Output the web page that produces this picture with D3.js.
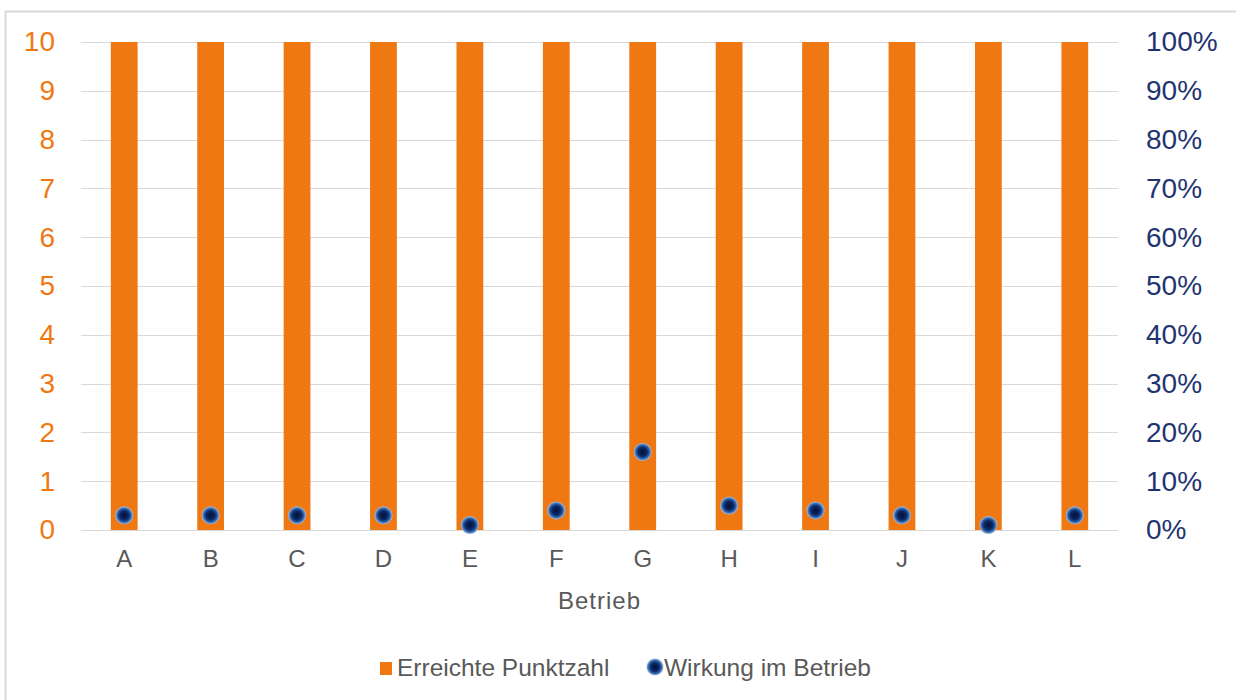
<!DOCTYPE html>
<html>
  <head>
    <meta charset="utf-8">
    <title>Betrieb</title>
    <style>
    body{margin:0;background:#fff}
    text{font-family:"Liberation Sans",Arial,sans-serif}
    </style>
  </head>
  <body>
    <svg width="1236" height="700"></svg>
    <script src="https://d3js.org/d3.v7.min.js"></script>
    <script>
    // data
    var categories = ["A","B","C","D","E","F","G","H","I","J","K","L"];
    var punktzahl = [10,10,10,10,10,10,10,10,10,10,10,10];
    var wirkung = [0.03,0.03,0.03,0.03,0.01,0.04,0.16,0.05,0.04,0.03,0.01,0.03];
    var leftTicks = [0,1,2,3,4,5,6,7,8,9,10];
    var rightTicks = [0,0.1,0.2,0.3,0.4,0.5,0.6,0.7,0.8,0.9,1];

    var orange = "#f07812", navy = "#1f3470", grey = "#595959";
    var mLeft = 81, mRight = 1118, mTop = 42, mBottom = 530;

    var svg = d3.select("svg");

    var defs = svg.append("defs");
    var rg = defs.append("radialGradient").attr("id", "dot").attr("cx", "50%").attr("cy", "50%").attr("r", "50%");
    rg.append("stop").attr("offset", "0%").attr("stop-color", "#050f33");
    rg.append("stop").attr("offset", "50%").attr("stop-color", "#0b2a6a");
    rg.append("stop").attr("offset", "75%").attr("stop-color", "#2f62a8");
    rg.append("stop").attr("offset", "100%").attr("stop-color", "#a3c2e6");

    // chart frame
    svg.append("path").attr("d", "M5.5,700 V11.5 H1236").attr("fill", "none").attr("stroke", "#d9d9d9").attr("stroke-width", 2);

    var x = d3.scaleBand().domain(categories).range([mLeft, mRight]);
    var y = d3.scaleLinear().domain([0, 10]).range([mBottom, mTop]);
    var y2 = d3.scaleLinear().domain([0, 1]).range([mBottom, mTop]);

    // gridlines
    svg.append("g").selectAll("line").data(leftTicks).join("line")
      .attr("x1", mLeft).attr("x2", mRight)
      .attr("y1", function(d) { return Math.round(y(d)) + 0.5; })
      .attr("y2", function(d) { return Math.round(y(d)) + 0.5; })
      .attr("stroke", "#d9d9d9").attr("stroke-width", 1.2);

    // bars
    var bw = x.bandwidth() * 0.31;
    svg.append("g").selectAll("rect").data(punktzahl).join("rect")
      .attr("x", function(d, i) { return x(categories[i]) + x.bandwidth() / 2 - bw / 2; })
      .attr("y", function(d) { return y(d); })
      .attr("width", bw)
      .attr("height", function(d) { return y(0) - y(d); })
      .attr("fill", orange);

    // dots
    svg.append("g").selectAll("circle").data(wirkung).join("circle")
      .attr("cx", function(d, i) { return x(categories[i]) + x.bandwidth() / 2; })
      .attr("cy", function(d) { return y2(d); })
      .attr("r", 9)
      .attr("fill", "url(#dot)");

    // left axis
    var ax = svg.append("g").attr("transform", "translate(" + (mLeft - 26) + ",0)")
      .call(d3.axisLeft(y).tickValues(leftTicks).tickSize(0).tickPadding(0));
    ax.select(".domain").remove();
    ax.selectAll("text").attr("fill", orange).style("font-size", "28px").style("font-family", "Liberation Sans, Arial, sans-serif");

    // right axis
    var ax2 = svg.append("g").attr("transform", "translate(" + (mRight + 28) + ",0)")
      .call(d3.axisRight(y2).tickValues(rightTicks).tickFormat(d3.format(".0%")).tickSize(0).tickPadding(0));
    ax2.select(".domain").remove();
    ax2.selectAll("text").attr("fill", navy).style("font-size", "28px").style("font-family", "Liberation Sans, Arial, sans-serif");

    // x axis
    var ax3 = svg.append("g").attr("transform", "translate(0," + (mBottom + 20) + ")")
      .call(d3.axisBottom(x).tickSize(0).tickPadding(0));
    ax3.select(".domain").remove();
    ax3.selectAll("text").attr("fill", grey).style("font-size", "24px").style("font-family", "Liberation Sans, Arial, sans-serif");

    svg.append("text").attr("x", (mLeft + mRight) / 2).attr("y", 609).attr("text-anchor", "middle")
      .attr("fill", grey).style("font-size", "24px").style("letter-spacing", "1px").text("Betrieb");

    // legend
    var lg = svg.append("g").attr("transform", "translate(380,668)");
    lg.append("rect").attr("x", 0).attr("y", -6).attr("width", 12).attr("height", 13).attr("fill", orange);
    lg.append("text").attr("x", 17).attr("y", 8).attr("fill", grey).style("font-size", "24.5px").text("Erreichte Punktzahl");
    lg.append("circle").attr("cx", 275).attr("cy", -1).attr("r", 8.5).attr("fill", "url(#dot)");
    lg.append("text").attr("x", 284).attr("y", 8).attr("fill", grey).style("font-size", "24.5px").text("Wirkung im Betrieb");
    </script>
  </body>
</html>
